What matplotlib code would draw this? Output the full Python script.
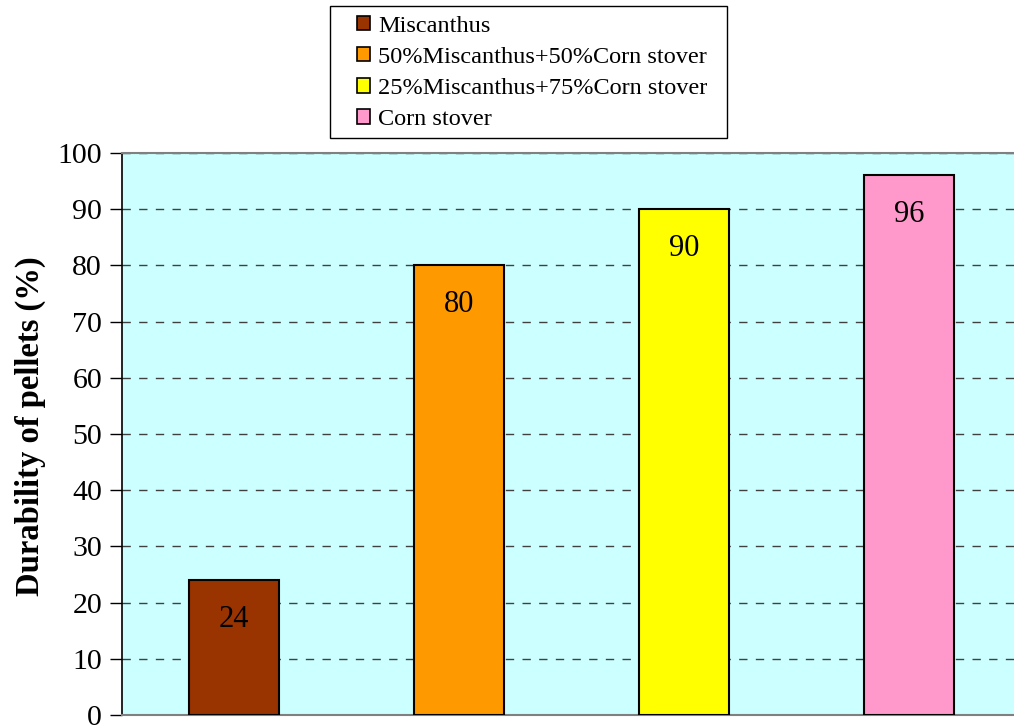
import matplotlib.pyplot as plt
from matplotlib.patches import Patch, Rectangle

plt.rcParams['font.family'] = ['Liberation Serif', 'DejaVu Serif']

# Pellet durability for each feedstock blend
blends = ["Miscanthus", "50%Miscanthus+50%Corn stover",
          "25%Miscanthus+75%Corn stover", "Corn stover"]
durability = [24, 80, 90, 96]
bar_colors = ["#993300", "#FF9900", "#FFFF00", "#FF99CC"]
y_ticks = list(range(0, 101, 10))

W, H = 1014, 728
fig = plt.figure(figsize=(W / 100, H / 100), dpi=100)
ax = fig.add_axes([121.5 / W, 13 / H, 900 / W, 562 / H])
ax.set_facecolor("#CCFFFF")

x = range(len(blends))
bars = ax.bar(x, durability, width=0.4, color=bar_colors,
              edgecolor="black", linewidth=1.5, zorder=3)

for b, v in zip(bars, durability):
    ax.text(b.get_x() + b.get_width() / 2, v - 7, f"{v:g}",
            ha="center", va="center", fontsize=22, zorder=4)

ax.set_xlim(-0.5, 3.5)
ax.set_ylim(0, 100)
ax.set_yticks(y_ticks)
ax.set_xticks([])
ax.tick_params(axis="y", labelsize=21.5, length=9, width=1, direction="out", pad=5)
ax.yaxis.grid(True, linestyle=(0, (6, 6)), color="#404040", linewidth=1, zorder=1)

for side in ["top", "bottom"]:
    ax.spines[side].set_color("#808080")
    ax.spines[side].set_linewidth(1.5)
ax.spines["right"].set_visible(False)
ax.spines["left"].set_linewidth(1.2)

ax.set_ylabel("Durability of pellets (%)", fontsize=23.5, fontweight="bold")
ax.yaxis.set_label_coords(-76 / 900, 0.514)

# legend box drawn separately so the entries can sit indented inside it
fig.add_artist(Rectangle((330 / W, 1 - 138 / H), 397 / W, 132 / H,
                         transform=fig.transFigure, facecolor="white",
                         edgecolor="black", linewidth=1, zorder=5))
handles = [Patch(facecolor=c, edgecolor="black", linewidth=1.2) for c in bar_colors]
leg = fig.legend(handles, blends, loc="upper left",
                 bbox_to_anchor=(348 / W, 1 - 7 / H), fontsize=17.5,
                 frameon=False, handlelength=0.55, handleheight=0.55,
                 handletextpad=0.35, labelspacing=0.42, borderpad=0.35,
                 borderaxespad=0)
leg.set_zorder(6)

fig.savefig("out.png", dpi=100)
